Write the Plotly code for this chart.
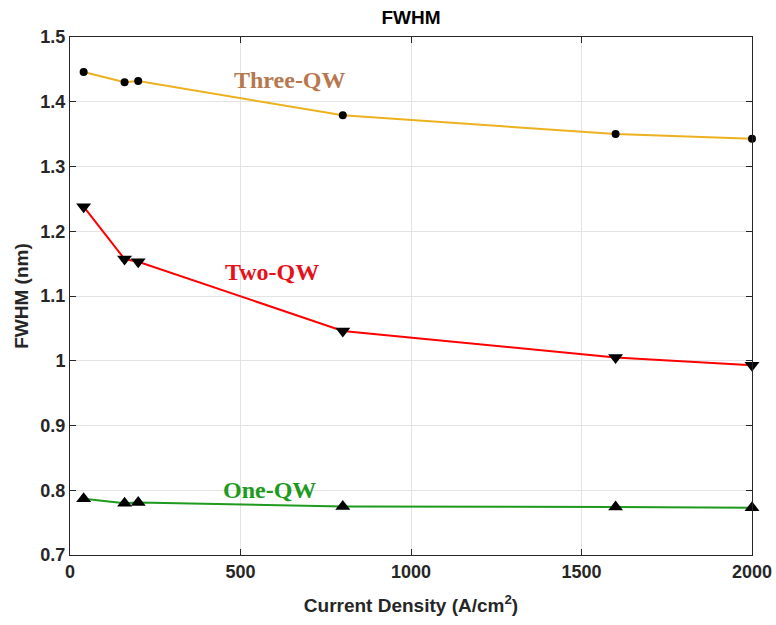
import plotly.graph_objects as go

current_density = [40, 160, 200, 800, 1600, 2000]
three_qw = [1.446, 1.430, 1.432, 1.379, 1.350, 1.343]
two_qw = [1.238, 1.157, 1.153, 1.046, 1.005, 0.993]
one_qw = [0.787, 0.780, 0.781, 0.775, 0.774, 0.773]

x_ticks = [0, 500, 1000, 1500, 2000]
y_ticks = [0.7, 0.8, 0.9, 1.0, 1.1, 1.2, 1.3, 1.4, 1.5]
y_labels = ["0.7", "0.8", "0.9", "1", "1.1", "1.2", "1.3", "1.4", "1.5"]

fig = go.Figure()
fig.add_trace(go.Scatter(x=current_density, y=three_qw, mode="lines+markers",
                         line=dict(color="#EDB120", width=2),
                         marker=dict(symbol="circle", size=8, color="black"), cliponaxis=False))
fig.add_trace(go.Scatter(x=current_density, y=two_qw, mode="lines+markers",
                         line=dict(color="#FF0000", width=2),
                         marker=dict(symbol="triangle-down", size=13, color="black"), cliponaxis=False))
fig.add_trace(go.Scatter(x=current_density, y=one_qw, mode="lines+markers",
                         line=dict(color="#1E9A1E", width=2),
                         marker=dict(symbol="triangle-up", size=13, color="black"), cliponaxis=False))

serif = "Liberation Serif, Times New Roman, serif"
fig.add_annotation(x=645, y=1.434, text="<b>Three-QW</b>", showarrow=False,
                   font=dict(family=serif, size=24, color="#B8784F"))
fig.add_annotation(x=592, y=1.137, text="<b>Two-QW</b>", showarrow=False,
                   font=dict(family=serif, size=24, color="#E8101A"))
fig.add_annotation(x=586, y=0.800, text="<b>One-QW</b>", showarrow=False,
                   font=dict(family=serif, size=24, color="#1E9A1E"))

tick_font = dict(family="Liberation Sans Narrow, Liberation Sans, Arial", size=18, color="#262626")
axis_common = dict(showline=True, linecolor="#262626", linewidth=1, mirror="allticks",
                   ticks="inside", ticklen=6, tickcolor="#262626", automargin=False,
                   showgrid=True, gridcolor="#E3E3E3", gridwidth=1, zeroline=False,
                   tickfont=tick_font)

fig.update_xaxes(range=[0, 2000], tickvals=x_ticks, ticktext=[f"<b>{v}</b>" for v in x_ticks],
                 title=dict(text="<b>Current Density (A/cm<sup>2</sup>)</b>", standoff=18,
                            font=dict(family="Liberation Sans Narrow, Liberation Sans, Arial", size=19,
                                      color="#262626")),
                 **axis_common)
fig.update_yaxes(range=[0.7, 1.5], tickvals=y_ticks, ticktext=[f"<b>{t}</b>" for t in y_labels],
                 title=dict(text="<b>FWHM (nm)</b>", standoff=6,
                            font=dict(family="Liberation Sans Narrow, Liberation Sans, Arial", size=19,
                                      color="#262626")),
                 **axis_common)

fig.update_layout(
    width=776, height=625,
    margin=dict(l=70, r=24, t=37, b=70),
    paper_bgcolor="white", plot_bgcolor="white",
    showlegend=False,
    title=dict(text="<b>FWHM</b>", x=(70 + 752) / 2 / 776, xanchor="center", y=1 - 17 / 625,
               yanchor="middle",
               font=dict(family="Liberation Sans Narrow, Liberation Sans, Arial", size=19, color="black")),
)

fig.write_html("out.html")
